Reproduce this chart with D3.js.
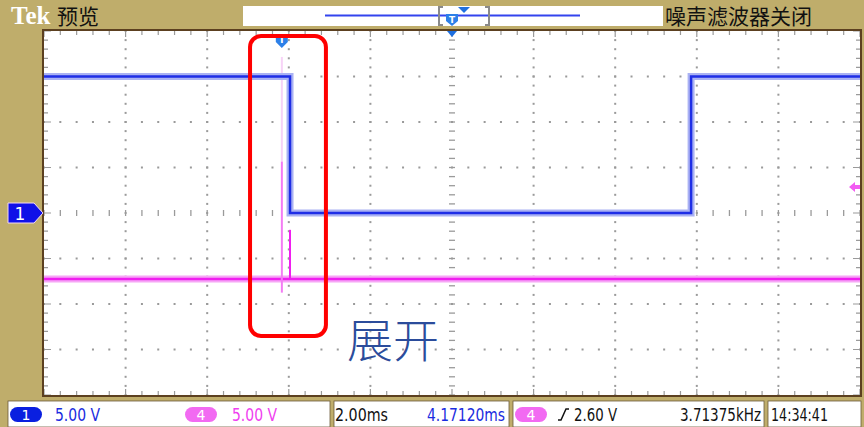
<!DOCTYPE html>
<html>
<head>
<meta charset="utf-8">
<script src="https://cdn.jsdelivr.net/npm/d3@7"></script>
<style>
body { margin: 0; background: #fff; }
svg { display: block; }
</style>
</head>
<body>
<script>
// scope screen: 10 div x 2.00 ms, 8 div x 5.00 V, centre = 0
var timeMajor = d3.range(-10, 10.001, 2);     // ms
var timeMinor = d3.range(-10, 10.001, 0.4);
var voltMajor = d3.range(-20, 20.001, 5);     // V
var voltMinor = d3.range(-20, 20.001, 1);

// CH1 (blue) square wave, ms / V
var ch1Time = [-10, -3.97, -3.97, 5.86, 5.86, 10];
var ch1Volt = [15, 15, 0, 0, 15, 15];

// CH4 (magenta) flat line + glitches, volts relative to its own ground
var ch4Offset = -7.25;
var ch4Time = [-10, 10];
var ch4Volt = [0, 0];
var spikeTime = [-4.17, -3.97];
var spikeLow = [-1.5, 0];
var spikeHigh = [12.9, 5.4];
var ghostTime = [-4.17];
var ghostLow = [12.9];
var ghostHigh = [24.4];

var trigTime = -4.1712;     // horizontal position readout
var trigLevel4 = 10.1;      // where the ch4 trigger arrow sits

var tan = "#bfad6b", brown = "#5c4020", gridGrey = "#9a9a9a";
var blue = "#1e2ee6", blueHalo = "#aab2f3";
var mag = "#f01ef0", magHalo = "#f6a6f6";

var margin = {top: 31, right: 4, bottom: 32, left: 44},
    width = 864 - margin.left - margin.right,
    height = 427 - margin.top - margin.bottom;

var x = d3.scaleLinear().domain([-10, 10]).range([0, width]);
var y = d3.scaleLinear().domain([-20, 20]).range([height, 0]);

var root = d3.select("body").append("svg")
    .attr("width", 864)
    .attr("height", 427);

// frame background
root.append("rect").attr("width", 864).attr("height", 427).attr("fill", tan);

// ---- top bar ----
root.append("text").attr("x", 11).attr("y", 24)
    .attr("font-family", "Liberation Serif").attr("font-weight", "bold")
    .attr("font-size", 25).attr("fill", "#fff").text("Tek");
root.append("text").attr("x", 57).attr("y", 24)
    .attr("font-family", "Noto Sans CJK SC").attr("font-size", 21)
    .attr("fill", "#111").text("预览");
root.append("rect").attr("x", 243).attr("y", 6).attr("width", 420).attr("height", 20)
    .attr("fill", "#fff");
root.append("line").attr("x1", 325).attr("x2", 580).attr("y1", 15.5).attr("y2", 15.5)
    .attr("stroke", "#3344ee").attr("stroke-width", 2);
// record window brackets
root.append("path").attr("d", "M443,7 h-4 v18 h4 M485,7 h4 v18 h-4")
    .attr("fill", "none").attr("stroke", "#8a8a8a").attr("stroke-width", 2);
root.append("path").attr("d", "M458,7 h12 l-6,6 z").attr("fill", "#2070e0");
root.append("path").attr("d", "M446,14 h12 v7 l-6,5 l-6,-5 z").attr("fill", "#2d80e8");
root.append("text").attr("x", 452).attr("y", 23).attr("text-anchor", "middle")
    .attr("font-family", "DejaVu Sans").attr("font-weight", "bold").attr("font-size", 9)
    .attr("fill", "#fff").text("T");
root.append("text").attr("x", 665).attr("y", 24)
    .attr("font-family", "Noto Sans CJK SC").attr("font-size", 21)
    .attr("fill", "#111").text("噪声滤波器关闭");

// ---- plot area ----
var svg = root.append("g")
    .attr("transform", "translate(" + margin.left + "," + margin.top + ")");

svg.append("rect").attr("width", width).attr("height", height).attr("fill", "#fff");

// dotted grid on columns
var inner = timeMajor.filter(function (t) { return t > -10 && t < 10 && t !== 0; });
var innerV = voltMajor.filter(function (v) { return v > -20 && v < 20 && v !== 0; });
inner.forEach(function (t) {
    svg.selectAll(null).data(voltMinor).enter().append("rect")
        .attr("x", x(t) - 1).attr("y", function (v) { return y(v) - 1; })
        .attr("width", 2).attr("height", 2).attr("fill", gridGrey);
});
innerV.forEach(function (v) {
    svg.selectAll(null).data(timeMinor).enter().append("rect")
        .attr("x", function (t) { return x(t) - 1; }).attr("y", y(v) - 1)
        .attr("width", 2).attr("height", 2).attr("fill", gridGrey);
});

// centre cross with minor ticks
svg.selectAll(null).data(timeMinor).enter().append("line")
    .attr("x1", function (t) { return x(t); }).attr("x2", function (t) { return x(t); })
    .attr("y1", y(0) - 3).attr("y2", y(0) + 3)
    .attr("stroke", gridGrey).attr("stroke-width", 1.3);
svg.selectAll(null).data(voltMinor).enter().append("line")
    .attr("x1", x(0) - 3).attr("x2", x(0) + 3)
    .attr("y1", function (v) { return y(v); }).attr("y2", function (v) { return y(v); })
    .attr("stroke", gridGrey).attr("stroke-width", 1.3);

// edge ticks
function isMajorT(t) { return Math.abs(t / 2 - Math.round(t / 2)) < 1e-6; }
function isMajorV(v) { return Math.abs(v / 5 - Math.round(v / 5)) < 1e-6; }
svg.selectAll(null).data(timeMinor).enter().append("path")
    .attr("d", function (t) {
        var l = isMajorT(t) ? 6 : 4;
        return "M" + x(t) + ",0 v" + l + " M" + x(t) + "," + height + " v-" + l;
    })
    .attr("stroke", gridGrey).attr("stroke-width", 1.2);
svg.selectAll(null).data(voltMinor).enter().append("path")
    .attr("d", function (v) {
        var l = isMajorV(v) ? 7 : 4;
        return "M0," + y(v) + " h" + l + " M" + width + "," + y(v) + " h-" + l;
    })
    .attr("stroke", gridGrey).attr("stroke-width", 1.2);

// ---- traces ----
var line = d3.line()
    .x(function (d) { return x(d[0]); })
    .y(function (d) { return y(d[1]); });

var ch1 = d3.zip(ch1Time, ch1Volt);
var ch4 = d3.zip(ch4Time, ch4Volt.map(function (v) { return v + ch4Offset; }));

// ghost / persistence glitch
svg.selectAll(null).data(d3.zip(ghostTime, ghostLow, ghostHigh)).enter().append("line")
    .attr("x1", function (d) { return x(d[0]); }).attr("x2", function (d) { return x(d[0]); })
    .attr("y1", function (d) { return y(d[1] + ch4Offset); })
    .attr("y2", function (d) { return y(d[2] + ch4Offset); })
    .attr("stroke", "#f7d3f7").attr("stroke-width", 2);

svg.append("path").datum(ch4).attr("d", line)
    .attr("fill", "none").attr("stroke", magHalo).attr("stroke-width", 7);
svg.append("path").datum(ch4).attr("d", line)
    .attr("fill", "none").attr("stroke", mag).attr("stroke-width", 2.5);

svg.selectAll(null).data(d3.zip(spikeTime, spikeLow, spikeHigh)).enter().append("line")
    .attr("x1", function (d) { return x(d[0]); }).attr("x2", function (d) { return x(d[0]); })
    .attr("y1", function (d) { return y(d[1] + ch4Offset); })
    .attr("y2", function (d) { return y(d[2] + ch4Offset); })
    .attr("stroke", function (d, i) { return i === 0 ? "#f47cf4" : mag; })
    .attr("stroke-width", 2);

svg.append("path").datum(ch1).attr("d", line)
    .attr("fill", "none").attr("stroke", blueHalo).attr("stroke-width", 7);
svg.append("path").datum(ch1).attr("d", line)
    .attr("fill", "none").attr("stroke", blue).attr("stroke-width", 2.5);

// plot border
svg.append("rect").attr("x", -1).attr("y", -1).attr("width", width + 2).attr("height", height + 2)
    .attr("fill", "none").attr("stroke", brown).attr("stroke-width", 2);

// trigger markers
svg.append("path").attr("d", "M" + (x(0) - 5) + ",0 h10 l-5,6 z").attr("fill", "#1e6fe0");
var tx = x(trigTime);
svg.append("path").attr("d", "M" + (tx - 6) + ",3 h12 v8 l-6,6 l-6,-6 z").attr("fill", "#2d80e8");
svg.append("text").attr("x", tx).attr("y", 12).attr("text-anchor", "middle")
    .attr("font-family", "DejaVu Sans").attr("font-weight", "bold").attr("font-size", 9)
    .attr("fill", "#fff").text("T");
var ty = y(trigLevel4 + ch4Offset);
svg.append("path")
    .attr("d", "M" + (width - 11) + "," + ty + " l6,-5 v3 h5 v4 h-5 v3 z")
    .attr("fill", "#f25cf2");

// annotation
svg.append("rect")
    .attr("x", x(-4.95)).attr("y", 5)
    .attr("width", x(-3.09) - x(-4.95)).attr("height", 300)
    .attr("rx", 11).attr("fill", "none").attr("stroke", "#ff0000").attr("stroke-width", 4);
svg.append("text").attr("x", 303).attr("y", 326)
    .attr("font-family", "Noto Sans CJK SC").attr("font-weight", 300).attr("font-size", 46)
    .attr("fill", "#2b4c9b").text("展开");

// ch1 ground marker
root.append("path")
    .attr("d", "M8," + (margin.top + y(0) - 10) + " h26 l9,10 l-9,10 h-26 z")
    .attr("fill", "#1010e8").attr("stroke", "#f3d8f3").attr("stroke-width", 1);
root.append("text").attr("x", 20).attr("y", margin.top + y(0) + 7).attr("text-anchor", "middle")
    .attr("font-family", "DejaVu Sans").attr("font-size", 17).attr("fill", "#fff").text("1");

// ---- status bar ----
var sb = root.append("g");
var sections = [[8, 330], [334, 509], [513, 764], [768, 861]];
sb.selectAll(null).data(sections).enter().append("rect")
    .attr("x", function (d) { return d[0]; }).attr("y", 401)
    .attr("width", function (d) { return d[1] - d[0]; }).attr("height", 26)
    .attr("fill", "#fff").attr("stroke", "#6b5a3a").attr("stroke-width", 0.8);

function pill(cx, fill, label) {
    sb.append("rect").attr("x", cx - 16).attr("y", 407).attr("width", 32).attr("height", 15)
        .attr("rx", 7.5).attr("fill", fill);
    sb.append("text").attr("x", cx).attr("y", 420).attr("text-anchor", "middle")
        .attr("font-family", "DejaVu Sans").attr("font-size", 14).attr("fill", "#fff").text(label);
}
pill(26, "#0a1fe0", "1");
pill(201, "#f26af2", "4");
pill(531, "#f26af2", "4");

var statusLabels = [
    {x: 55, w: 45, t: "5.00 V", c: "#1a2ce0"},
    {x: 232, w: 45, t: "5.00 V", c: "#f040f0"},
    {x: 335, w: 53, t: "2.00ms", c: "#111"},
    {x: 427, w: 78, t: "4.17120ms", c: "#1a2ce0"},
    {x: 574, w: 43, t: "2.60 V", c: "#111"},
    {x: 680, w: 81, t: "3.71375kHz", c: "#111"},
    {x: 771, w: 57, t: "14:34:41", c: "#111"}
];
sb.selectAll(null).data(statusLabels).enter().append("text")
    .attr("x", function (d) { return d.x; }).attr("y", 421)
    .attr("textLength", function (d) { return d.w; }).attr("lengthAdjust", "spacingAndGlyphs")
    .attr("font-family", "Liberation Sans Narrow, DejaVu Sans Condensed, sans-serif")
    .attr("font-size", 17).attr("fill", function (d) { return d.c; })
    .text(function (d) { return d.t; });
// rising-edge trigger symbol
sb.append("path").attr("d", "M558,420 h3 l5,-11 h3")
    .attr("fill", "none").attr("stroke", "#111").attr("stroke-width", 1.5);
</script>
</body>
</html>
